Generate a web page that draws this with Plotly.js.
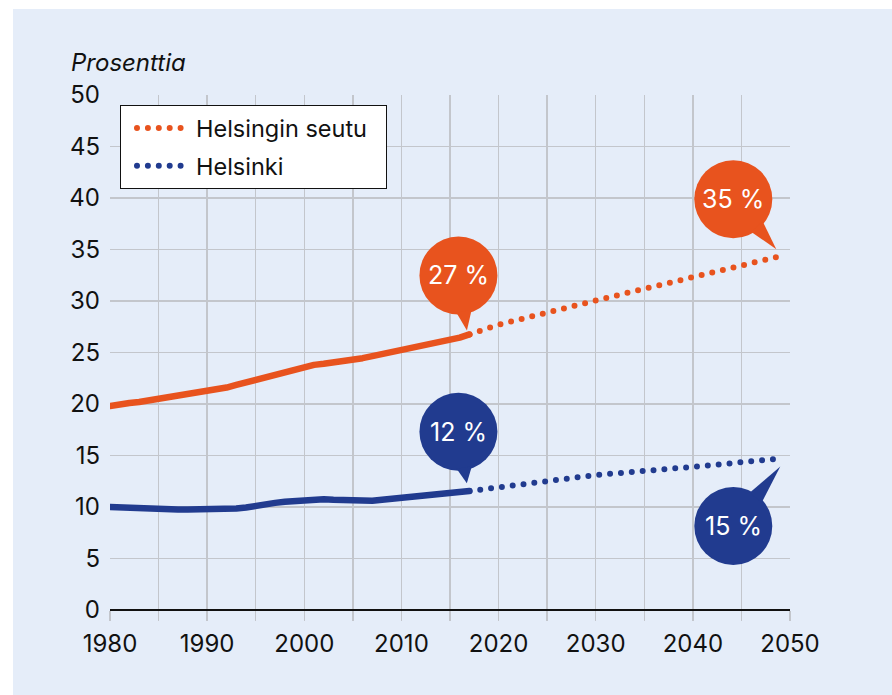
<!DOCTYPE html>
<html>
<head>
<meta charset="utf-8">
<script src="https://cdn.plot.ly/plotly-3.0.1.min.js"></script>
<style>
  html, body { margin: 0; padding: 0; background: #ffffff; }
  #chart { position: absolute; left: 13px; top: 9px; width: 879px; height: 686px; }
  .js-line { stroke-linecap: round; stroke-linejoin: round; }
</style>
</head>
<body>
<div id="chart"></div>
<script>
// ---- data ----
const years = [1980,1981,1982,1983,1984,1985,1986,1987,1988,1989,1990,1991,1992,1993,1994,1995,1996,1997,1998,1999,
               2000,2001,2002,2003,2004,2005,2006,2007,2008,2009,2010,2011,2012,2013,2014,2015,2016,2017];
const seutu = [19.8,20.0,20.1,20.2,20.35,20.5,20.7,20.9,21.05,21.05,21.3,21.4,21.6,21.85,22.1,22.35,22.6,22.9,23.2,23.45,
               23.65,23.8,23.9,24.0,24.1,24.3,24.45,24.65,24.85,25.0,25.15,25.35,25.55,25.75,26.0,26.2,26.45,26.75];
const helsinki = [10.0,9.95,9.9,9.8,9.75,9.75,9.75,9.75,9.75,9.75,9.75,9.75,9.75,9.85,9.95,10.15,10.3,10.4,10.5,10.6,
                  10.65,10.7,10.75,10.7,10.65,10.6,10.6,10.6,10.7,10.8,10.85,10.95,11.05,11.15,11.25,11.35,11.45,11.55];
const projYears = [2017, 2020, 2030, 2040, 2049];
const seutuProj = [26.75, 27.7, 30.05, 32.3, 34.35];
const helsinkiProj = [11.55, 11.9, 13.1, 13.9, 14.7];
const seriesNames = ["Helsingin seutu", "Helsinki"];
const bubbleLabels = ["27 %", "35 %", "12 %", "15 %"];
const xTicks = [1980, 1990, 2000, 2010, 2020, 2030, 2040, 2050];
const yTitle = "Prosenttia";

// ---- style ----
const ORANGE = "#e8531e";
const BLUE = "#213b8f";
const GRID = "#c3c6cc";
const INK = "#111111";
const FONT = "Inter, 'Liberation Sans', Arial, sans-serif";
const DOTS = "0px,10.9px";
const PAD = "\u00a0\u00a0";

const traces = [
  {x: years, y: seutu, mode: "lines", line: {color: ORANGE, width: 6.5}, showlegend: false, hoverinfo: "skip"},
  {x: projYears, y: seutuProj, mode: "lines", name: seriesNames[0] + PAD, legendgroup: "a",
   line: {color: ORANGE, width: 6, dash: DOTS}, hoverinfo: "skip"},
  {x: years, y: helsinki, mode: "lines", line: {color: BLUE, width: 6.5}, showlegend: false, hoverinfo: "skip"},
  {x: projYears, y: helsinkiProj, mode: "lines", name: seriesNames[1], legendgroup: "b",
   line: {color: BLUE, width: 6, dash: DOTS}, hoverinfo: "skip"}
];

// speech bubbles anchored at data points (pixel offsets, up positive)
const last = a => a[a.length - 1];
const bubbles = [
  {ax: last(years), ay: last(seutu), c: [-11, 59], t: [-2.5, 4], col: ORANGE, label: bubbleLabels[0]},
  {ax: last(projYears), ay: last(seutuProj), c: [-47, 57], t: [-4, 7], col: ORANGE, label: bubbleLabels[1]},
  {ax: last(years), ay: last(helsinki), c: [-11, 59.3], t: [-2.6, 7.7], col: BLUE, label: bubbleLabels[2]},
  {ax: last(projYears), ay: last(helsinkiProj), c: [-47, -67.4], t: [0, -8], col: BLUE, label: bubbleLabels[3]}
];
const R = 39, DELTA = 0.21;
const shapes = [], annotations = [];
bubbles.forEach(b => {
  shapes.push({type: "circle", xref: "x", yref: "y", xsizemode: "pixel", ysizemode: "pixel",
    xanchor: b.ax, yanchor: b.ay, x0: b.c[0] - R, x1: b.c[0] + R, y0: b.c[1] - R, y1: b.c[1] + R,
    fillcolor: b.col, line: {width: 0}, layer: "above"});
  const th = Math.atan2(b.t[1] - b.c[1], b.t[0] - b.c[0]);
  const p1 = [b.c[0] + (R - 2) * Math.cos(th - DELTA), b.c[1] + (R - 2) * Math.sin(th - DELTA)];
  const p2 = [b.c[0] + (R - 2) * Math.cos(th + DELTA), b.c[1] + (R - 2) * Math.sin(th + DELTA)];
  shapes.push({type: "path", xref: "x", yref: "y", xsizemode: "pixel", ysizemode: "pixel",
    xanchor: b.ax, yanchor: b.ay,
    path: `M${p1[0]},${p1[1]} L${b.t[0]},${b.t[1]} L${p2[0]},${p2[1]} Z`,
    fillcolor: b.col, line: {width: 0}, layer: "above"});
  annotations.push({x: b.ax, y: b.ay, xref: "x", yref: "y", xshift: b.c[0], yshift: b.c[1],
    text: b.label, showarrow: false, font: {family: FONT, size: 25, color: "#ffffff"},
    xanchor: "center", yanchor: "middle"});
});
annotations.push({xref: "paper", yref: "paper", x: -0.0603, y: 1.064, xanchor: "left", yanchor: "middle",
  text: "<i>" + yTitle + "</i>", showarrow: false, font: {family: FONT, size: 24, color: INK}});

const layout = {
  width: 879, height: 686,
  margin: {l: 97, r: 102, t: 86, b: 85},
  paper_bgcolor: "#e5edf9", plot_bgcolor: "#e5edf9",
  font: {family: FONT, size: 24, color: INK},
  showlegend: true,
  legend: {x: 0.0147, y: 0.98, xanchor: "left", yanchor: "top", bgcolor: "#ffffff",
    bordercolor: INK, borderwidth: 1, font: {family: FONT, size: 23.5, color: INK},
    itemwidth: 54, indentation: 11, traceorder: "grouped", tracegroupgap: 4},
  xaxis: {range: [1980, 2050], tickvals: xTicks, showgrid: true, gridcolor: GRID, gridwidth: 1.5,
    ticks: "outside", ticklen: 10, tickcolor: GRID, tickwidth: 1.5, zeroline: false, showline: false,
    ticklabelstandoff: 2,
    minor: {dtick: 5, showgrid: true, gridcolor: GRID, gridwidth: 1.5, ticks: "outside", ticklen: 10, tickcolor: GRID, tickwidth: 1.5},
    tickfont: {family: FONT, size: 24, color: INK}, fixedrange: true},
  yaxis: {range: [0, 50], dtick: 5, showgrid: true, gridcolor: GRID, gridwidth: 1.5, zeroline: true,
    zerolinecolor: INK, zerolinewidth: 2.5, ticks: "", showline: false, ticklabelstandoff: 9,
    tickfont: {family: FONT, size: 24, color: INK}, fixedrange: true},
  shapes: shapes,
  annotations: annotations,
  hovermode: false
};
Plotly.newPlot("chart", traces, layout, {displayModeBar: false, staticPlot: true});
</script>
</body>
</html>
